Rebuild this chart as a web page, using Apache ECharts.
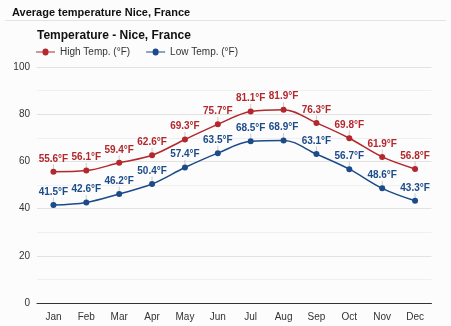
<!DOCTYPE html>
<html><head><meta charset="utf-8">
<script src="https://cdn.jsdelivr.net/npm/echarts@6/dist/echarts.min.js"></script>
<style>html,body{margin:0;padding:0;background:#fff;}#c{width:451px;height:326px;}</style>
</head><body><div id="c"></div>
<script>
const months = ['Jan','Feb','Mar','Apr','May','Jun','Jul','Aug','Sep','Oct','Nov','Dec'];
const highTemp = [55.6,56.1,59.4,62.6,69.3,75.7,81.1,81.9,76.3,69.8,61.9,56.8];
const lowTemp = [41.5,42.6,46.2,50.4,57.4,63.5,68.5,68.9,63.1,56.7,48.6,43.3];
const yTicks = [0,20,40,60,80,100];

const RED = '#b3282d', BLUE = '#1c4b8a';
const FF = 'Arial, Liberation Sans, sans-serif';
const chart = echarts.init(document.getElementById('c'), null, {renderer:'canvas'});
function labelCfg(color){
  return {show:true, position:'top', distance:5, color:color, fontWeight:'bold', fontSize:10,
    fontFamily:FF, formatter: p => p.value.toFixed(1)+'°F'};
}
function tick(name, data){
  return {name:name+'_tick', type:'scatter', data:data, symbol:'rect', symbolSize:[1,5], symbolOffset:[0,-5],
    itemStyle:{color:'#c0c0c0'}, silent:true, z:1, tooltip:{show:false}};
}
chart.setOption({
  backgroundColor:'#fcfcfc',
  animation:false,
  title:[
    {text:'Average temperature Nice, France', left:7, top:2, textStyle:{fontSize:11, fontWeight:'bold', color:'#111', fontFamily:FF}},
    {text:'Temperature - Nice, France', left:32, top:25, textStyle:{fontSize:12, fontWeight:'bold', color:'#111', fontFamily:FF}}
  ],
  graphic:[{type:'line', shape:{x1:5,y1:20.5,x2:446,y2:20.5}, style:{stroke:'#e4e4e4', lineWidth:1}}],
  legend:{left:31, top:42, itemWidth:19, itemHeight:7, itemGap:16,
    icon:'path://M0,3h6.5a3,3 0 1 1 6,0h6.5v1h-6.5a3,3 0 1 1 -6,0h-6.5z',
    data:['High Temp. (°F)','Low Temp. (°F)'],
    textStyle:{fontSize:10, color:'#333', fontFamily:FF}},
  grid:{left:37, right:19.5, top:67, bottom:23},
  xAxis:{type:'category', data:months, boundaryGap:true,
    axisLine:{lineStyle:{color:'#333', width:1}}, axisTick:{show:false},
    axisLabel:{color:'#333', fontSize:10, margin:9, fontFamily:FF}},
  yAxis:{type:'value', min:yTicks[0], max:yTicks[yTicks.length-1], interval:20,
    axisLine:{show:false}, axisTick:{show:false},
    axisLabel:{color:'#333', fontSize:10, margin:7, fontFamily:FF},
    splitLine:{lineStyle:{color:'#e2e2e2'}},
    minorTick:{show:false, splitNumber:2},
    minorSplitLine:{show:true, lineStyle:{color:'#efefef'}}},
  series:[
    tick('high', highTemp), tick('low', lowTemp),
    {name:'High Temp. (°F)', type:'line', data:highTemp, smooth:0.35, color:RED,
      symbol:'circle', symbolSize:6, lineStyle:{width:1.5, color:RED}, itemStyle:{color:RED}, label:labelCfg(RED), z:3},
    {name:'Low Temp. (°F)', type:'line', data:lowTemp, smooth:0.35, color:BLUE,
      symbol:'circle', symbolSize:6, lineStyle:{width:1.5, color:BLUE}, itemStyle:{color:BLUE}, label:labelCfg(BLUE), z:3}
  ]
});
</script></body></html>
